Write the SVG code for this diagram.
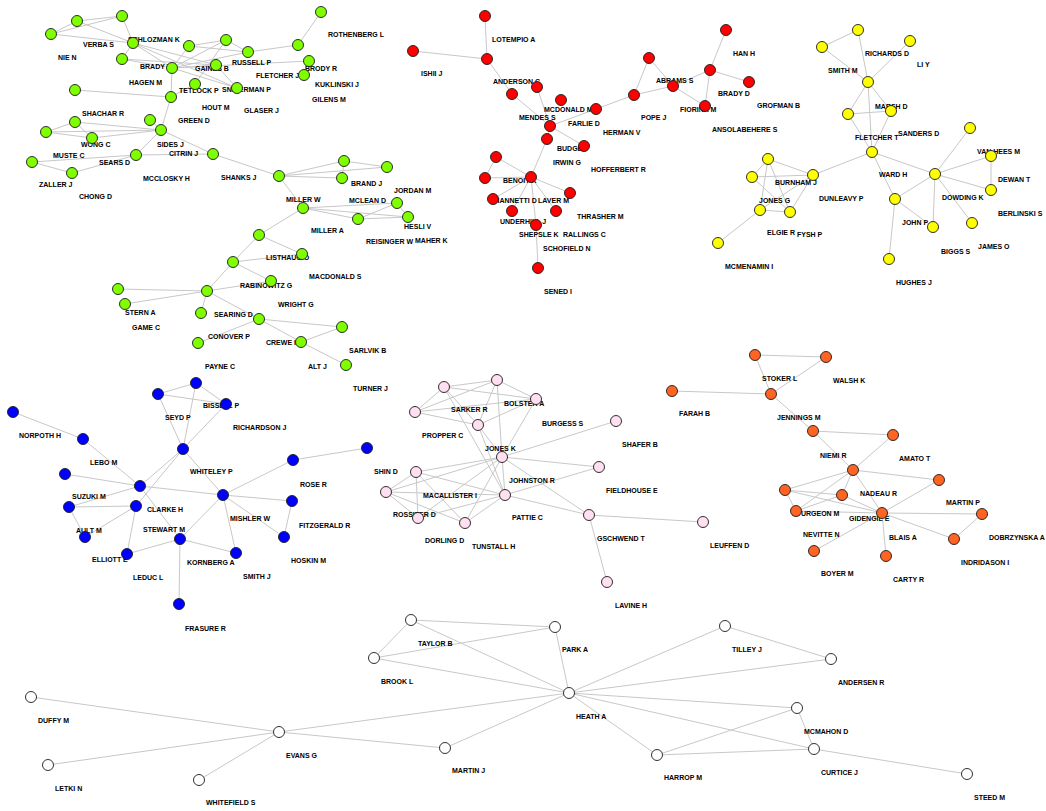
<svg xmlns="http://www.w3.org/2000/svg" width="1046" height="811" viewBox="0 0 1046 811">
<style>
.e line{stroke:#c8c8c8;stroke-width:1}
circle{stroke:#1a1a1a;stroke-width:0.9}
.g{fill:#7fff00}.r{fill:#ff0000}.y{fill:#ffff00}.b{fill:#0000ff}.p{fill:#ffdff0}.o{fill:#ff6422}.w{fill:#ffffff}
text{font-family:"Liberation Sans",Arial,sans-serif;font-weight:bold;font-size:7px;fill:#000}
</style>
<rect width="1046" height="811" fill="#fff"/>
<g id="connectors" class="e">
<line x1="122" y1="16" x2="77" y2="21"/><line x1="122" y1="16" x2="51" y2="34"/><line x1="77" y1="21" x2="51" y2="34"/><line x1="77" y1="21" x2="133" y2="43"/><line x1="51" y1="34" x2="133" y2="43"/><line x1="122" y1="16" x2="133" y2="43"/><line x1="133" y1="43" x2="122" y2="59"/><line x1="133" y1="43" x2="172" y2="68"/><line x1="133" y1="43" x2="216" y2="65"/><line x1="133" y1="43" x2="237" y2="88"/><line x1="122" y1="59" x2="172" y2="68"/><line x1="122" y1="59" x2="216" y2="65"/><line x1="172" y1="68" x2="189" y2="46"/><line x1="172" y1="68" x2="226" y2="40"/><line x1="172" y1="68" x2="248" y2="52"/><line x1="172" y1="68" x2="216" y2="65"/><line x1="172" y1="68" x2="237" y2="88"/><line x1="172" y1="68" x2="309" y2="61"/><line x1="189" y1="46" x2="226" y2="40"/><line x1="189" y1="46" x2="248" y2="52"/><line x1="226" y1="40" x2="248" y2="52"/><line x1="226" y1="40" x2="195" y2="84"/><line x1="216" y1="65" x2="237" y2="88"/><line x1="248" y1="52" x2="298" y2="45"/><line x1="321" y1="12" x2="298" y2="45"/><line x1="172" y1="68" x2="171" y2="97"/><line x1="171" y1="97" x2="195" y2="84"/><line x1="75" y1="90" x2="171" y2="97"/><line x1="171" y1="97" x2="161" y2="130"/><line x1="75" y1="122" x2="161" y2="130"/><line x1="46" y1="132" x2="161" y2="130"/><line x1="92" y1="138" x2="161" y2="130"/><line x1="75" y1="122" x2="46" y2="132"/><line x1="46" y1="132" x2="92" y2="138"/><line x1="75" y1="122" x2="92" y2="138"/><line x1="150" y1="120" x2="161" y2="130"/><line x1="161" y1="130" x2="136" y2="155"/><line x1="161" y1="130" x2="213" y2="154"/><line x1="32" y1="162" x2="136" y2="155"/><line x1="32" y1="162" x2="72" y2="173"/><line x1="72" y1="173" x2="136" y2="155"/><line x1="136" y1="155" x2="213" y2="154"/><line x1="213" y1="154" x2="279" y2="176"/><line x1="279" y1="176" x2="344" y2="161"/><line x1="279" y1="176" x2="387" y2="167"/><line x1="279" y1="176" x2="342" y2="178"/><line x1="344" y1="161" x2="387" y2="167"/><line x1="344" y1="161" x2="342" y2="178"/><line x1="279" y1="176" x2="303" y2="208"/><line x1="303" y1="208" x2="397" y2="203"/><line x1="303" y1="208" x2="408" y2="217"/><line x1="303" y1="208" x2="358" y2="219"/><line x1="358" y1="219" x2="397" y2="203"/><line x1="358" y1="219" x2="408" y2="217"/><line x1="397" y1="203" x2="408" y2="217"/><line x1="303" y1="208" x2="259" y2="235"/><line x1="259" y1="235" x2="302" y2="254"/><line x1="259" y1="235" x2="233" y2="262"/><line x1="233" y1="262" x2="302" y2="254"/><line x1="233" y1="262" x2="271" y2="281"/><line x1="233" y1="262" x2="207" y2="291"/><line x1="207" y1="291" x2="118" y2="289"/><line x1="207" y1="291" x2="125" y2="304"/><line x1="207" y1="291" x2="271" y2="281"/><line x1="207" y1="291" x2="201" y2="313"/><line x1="207" y1="291" x2="259" y2="319"/><line x1="259" y1="319" x2="342" y2="327"/><line x1="259" y1="319" x2="301" y2="342"/><line x1="259" y1="319" x2="198" y2="343"/><line x1="301" y1="342" x2="342" y2="327"/><line x1="301" y1="342" x2="346" y2="365"/>
<line x1="485" y1="16" x2="487" y2="59"/><line x1="413" y1="51" x2="487" y2="59"/><line x1="487" y1="59" x2="512" y2="94"/><line x1="512" y1="94" x2="550" y2="126"/><line x1="537" y1="87" x2="550" y2="126"/><line x1="550" y1="126" x2="596" y2="109"/><line x1="550" y1="126" x2="584" y2="146"/><line x1="550" y1="126" x2="547" y2="139"/><line x1="596" y1="109" x2="634" y2="95"/><line x1="634" y1="95" x2="649" y2="58"/><line x1="634" y1="95" x2="673" y2="86"/><line x1="649" y1="58" x2="673" y2="86"/><line x1="673" y1="86" x2="710" y2="70"/><line x1="673" y1="86" x2="705" y2="106"/><line x1="710" y1="70" x2="726" y2="30"/><line x1="710" y1="70" x2="749" y2="82"/><line x1="710" y1="70" x2="705" y2="106"/><line x1="547" y1="139" x2="531" y2="177"/><line x1="531" y1="177" x2="496" y2="157"/><line x1="496" y1="157" x2="485" y2="178"/><line x1="485" y1="178" x2="531" y2="177"/><line x1="531" y1="177" x2="493" y2="199"/><line x1="531" y1="177" x2="570" y2="193"/><line x1="531" y1="177" x2="512" y2="211"/><line x1="531" y1="177" x2="556" y2="211"/><line x1="531" y1="177" x2="536" y2="225"/><line x1="536" y1="225" x2="538" y2="268"/>
<line x1="858" y1="30" x2="822" y2="47"/><line x1="822" y1="47" x2="868" y2="82"/><line x1="858" y1="30" x2="868" y2="82"/><line x1="910" y1="41" x2="868" y2="82"/><line x1="868" y1="82" x2="848" y2="114"/><line x1="868" y1="82" x2="891" y2="111"/><line x1="848" y1="114" x2="891" y2="111"/><line x1="868" y1="82" x2="872" y2="152"/><line x1="848" y1="114" x2="872" y2="152"/><line x1="891" y1="111" x2="872" y2="152"/><line x1="872" y1="152" x2="813" y2="175"/><line x1="872" y1="152" x2="935" y2="174"/><line x1="872" y1="152" x2="895" y2="199"/><line x1="935" y1="174" x2="970" y2="128"/><line x1="935" y1="174" x2="991" y2="156"/><line x1="935" y1="174" x2="991" y2="190"/><line x1="991" y1="156" x2="991" y2="190"/><line x1="935" y1="174" x2="895" y2="199"/><line x1="935" y1="174" x2="933" y2="227"/><line x1="935" y1="174" x2="972" y2="223"/><line x1="895" y1="199" x2="889" y2="259"/><line x1="895" y1="199" x2="933" y2="227"/><line x1="768" y1="159" x2="752" y2="177"/><line x1="768" y1="159" x2="813" y2="175"/><line x1="768" y1="159" x2="760" y2="210"/><line x1="768" y1="159" x2="790" y2="212"/><line x1="752" y1="177" x2="813" y2="175"/><line x1="752" y1="177" x2="790" y2="212"/><line x1="813" y1="175" x2="760" y2="210"/><line x1="813" y1="175" x2="790" y2="212"/><line x1="760" y1="210" x2="790" y2="212"/><line x1="760" y1="210" x2="718" y2="243"/>
<line x1="196" y1="383" x2="158" y2="394"/><line x1="158" y1="394" x2="226" y2="404"/><line x1="196" y1="383" x2="226" y2="404"/><line x1="196" y1="383" x2="183" y2="449"/><line x1="158" y1="394" x2="183" y2="449"/><line x1="226" y1="404" x2="183" y2="449"/><line x1="13" y1="412" x2="83" y2="439"/><line x1="83" y1="439" x2="140" y2="486"/><line x1="65" y1="474" x2="140" y2="486"/><line x1="183" y1="449" x2="140" y2="486"/><line x1="183" y1="449" x2="136" y2="506"/><line x1="183" y1="449" x2="223" y2="495"/><line x1="140" y1="486" x2="223" y2="495"/><line x1="140" y1="486" x2="69" y2="507"/><line x1="69" y1="507" x2="136" y2="506"/><line x1="69" y1="507" x2="85" y2="537"/><line x1="136" y1="506" x2="85" y2="537"/><line x1="140" y1="486" x2="180" y2="539"/><line x1="136" y1="506" x2="127" y2="554"/><line x1="180" y1="539" x2="127" y2="554"/><line x1="180" y1="539" x2="236" y2="553"/><line x1="180" y1="539" x2="179" y2="604"/><line x1="223" y1="495" x2="180" y2="539"/><line x1="223" y1="495" x2="236" y2="553"/><line x1="223" y1="495" x2="293" y2="460"/><line x1="223" y1="495" x2="292" y2="501"/><line x1="223" y1="495" x2="284" y2="537"/><line x1="293" y1="460" x2="367" y2="448"/><line x1="292" y1="501" x2="284" y2="537"/>
<line x1="444" y1="387" x2="497" y2="380"/><line x1="444" y1="387" x2="536" y2="399"/><line x1="444" y1="387" x2="415" y2="412"/><line x1="444" y1="387" x2="478" y2="425"/><line x1="444" y1="387" x2="505" y2="495"/><line x1="497" y1="380" x2="536" y2="399"/><line x1="497" y1="380" x2="415" y2="412"/><line x1="497" y1="380" x2="478" y2="425"/><line x1="497" y1="380" x2="502" y2="457"/><line x1="536" y1="399" x2="415" y2="412"/><line x1="536" y1="399" x2="478" y2="425"/><line x1="536" y1="399" x2="502" y2="457"/><line x1="415" y1="412" x2="478" y2="425"/><line x1="478" y1="425" x2="502" y2="457"/><line x1="478" y1="425" x2="505" y2="495"/><line x1="502" y1="457" x2="616" y2="421"/><line x1="502" y1="457" x2="599" y2="467"/><line x1="502" y1="457" x2="589" y2="515"/><line x1="502" y1="457" x2="416" y2="472"/><line x1="502" y1="457" x2="386" y2="492"/><line x1="502" y1="457" x2="418" y2="518"/><line x1="502" y1="457" x2="465" y2="523"/><line x1="502" y1="457" x2="505" y2="495"/><line x1="416" y1="472" x2="386" y2="492"/><line x1="416" y1="472" x2="505" y2="495"/><line x1="416" y1="472" x2="418" y2="518"/><line x1="416" y1="472" x2="465" y2="523"/><line x1="386" y1="492" x2="505" y2="495"/><line x1="386" y1="492" x2="418" y2="518"/><line x1="386" y1="492" x2="465" y2="523"/><line x1="505" y1="495" x2="599" y2="467"/><line x1="505" y1="495" x2="465" y2="523"/><line x1="505" y1="495" x2="418" y2="518"/><line x1="505" y1="495" x2="589" y2="515"/><line x1="589" y1="515" x2="703" y2="522"/><line x1="589" y1="515" x2="607" y2="582"/>
<line x1="755" y1="355" x2="826" y2="357"/><line x1="755" y1="355" x2="771" y2="394"/><line x1="826" y1="357" x2="771" y2="394"/><line x1="672" y1="391" x2="771" y2="394"/><line x1="771" y1="394" x2="813" y2="431"/><line x1="813" y1="431" x2="893" y2="435"/><line x1="813" y1="431" x2="853" y2="470"/><line x1="893" y1="435" x2="853" y2="470"/><line x1="853" y1="470" x2="939" y2="480"/><line x1="853" y1="470" x2="785" y2="490"/><line x1="853" y1="470" x2="842" y2="495"/><line x1="853" y1="470" x2="796" y2="511"/><line x1="853" y1="470" x2="882" y2="513"/><line x1="785" y1="490" x2="842" y2="495"/><line x1="785" y1="490" x2="796" y2="511"/><line x1="785" y1="490" x2="882" y2="513"/><line x1="842" y1="495" x2="796" y2="511"/><line x1="842" y1="495" x2="882" y2="513"/><line x1="796" y1="511" x2="882" y2="513"/><line x1="939" y1="480" x2="882" y2="513"/><line x1="882" y1="513" x2="982" y2="514"/><line x1="882" y1="513" x2="954" y2="539"/><line x1="982" y1="514" x2="954" y2="539"/><line x1="882" y1="513" x2="814" y2="551"/><line x1="882" y1="513" x2="886" y2="556"/>
<line x1="411" y1="620" x2="555" y2="627"/><line x1="411" y1="620" x2="569" y2="693"/><line x1="411" y1="620" x2="374" y2="658"/><line x1="374" y1="658" x2="555" y2="627"/><line x1="374" y1="658" x2="569" y2="693"/><line x1="555" y1="627" x2="569" y2="693"/><line x1="279" y1="732" x2="31" y2="697"/><line x1="279" y1="732" x2="48" y2="765"/><line x1="279" y1="732" x2="199" y2="780"/><line x1="279" y1="732" x2="445" y2="748"/><line x1="279" y1="732" x2="569" y2="693"/><line x1="445" y1="748" x2="569" y2="693"/><line x1="569" y1="693" x2="725" y2="626"/><line x1="569" y1="693" x2="831" y2="659"/><line x1="725" y1="626" x2="831" y2="659"/><line x1="569" y1="693" x2="797" y2="708"/><line x1="569" y1="693" x2="814" y2="749"/><line x1="569" y1="693" x2="657" y2="755"/><line x1="797" y1="708" x2="814" y2="749"/><line x1="797" y1="708" x2="657" y2="755"/><line x1="657" y1="755" x2="814" y2="749"/><line x1="814" y1="749" x2="967" y2="774"/>
</g>
<g id="nodes">
<g id="schlozman-k"><circle class="g" cx="122" cy="16" r="5.5"/><text x="128" y="41.5">SCHLOZMAN K</text></g>
<g id="verba-s"><circle class="g" cx="77" cy="21" r="5.5"/><text x="83" y="46.5">VERBA S</text></g>
<g id="nie-n"><circle class="g" cx="51" cy="34" r="5.5"/><text x="58" y="59.5">NIE N</text></g>
<g id="brady-i"><circle class="g" cx="133" cy="43" r="5.5"/><text x="140" y="68.5">BRADY I</text></g>
<g id="hagen-m"><circle class="g" cx="122" cy="59" r="5.5"/><text x="129" y="84.5">HAGEN M</text></g>
<g id="gaines-b"><circle class="g" cx="189" cy="46" r="5.5"/><text x="195" y="70.5">GAINES B</text></g>
<g id="russell-p"><circle class="g" cx="226" cy="40" r="5.5"/><text x="232" y="64.5">RUSSELL P</text></g>
<g id="fletcher-j"><circle class="g" cx="248" cy="52" r="5.5"/><text x="256" y="77.5">FLETCHER J</text></g>
<g id="rothenberg-l"><circle class="g" cx="321" cy="12" r="5.5"/><text x="328" y="36.5">ROTHENBERG L</text></g>
<g id="brody-r"><circle class="g" cx="298" cy="45" r="5.5"/><text x="305" y="70.5">BRODY R</text></g>
<g id="kuklinski-j"><circle class="g" cx="309" cy="61" r="5.5"/><text x="315" y="86.5">KUKLINSKI J</text></g>
<g id="gilens-m"><circle class="g" cx="304" cy="75" r="5.5"/><text x="312" y="101.5">GILENS M</text></g>
<g id="tetlock-p"><circle class="g" cx="172" cy="68" r="5.5"/><text x="179" y="92.5">TETLOCK P</text></g>
<g id="sniderman-p"><circle class="g" cx="216" cy="65" r="5.5"/><text x="222" y="91.5">SNIDERMAN P</text></g>
<g id="hout-m"><circle class="g" cx="195" cy="84" r="5.5"/><text x="202" y="109.5">HOUT M</text></g>
<g id="glaser-j"><circle class="g" cx="237" cy="88" r="5.5"/><text x="244" y="112.5">GLASER J</text></g>
<g id="shachar-r"><circle class="g" cx="75" cy="90" r="5.5"/><text x="82" y="115.5">SHACHAR R</text></g>
<g id="green-d"><circle class="g" cx="171" cy="97" r="5.5"/><text x="178" y="122.5">GREEN D</text></g>
<g id="wong-c"><circle class="g" cx="75" cy="122" r="5.5"/><text x="81" y="146.5">WONG C</text></g>
<g id="sides-j"><circle class="g" cx="150" cy="120" r="5.5"/><text x="157" y="146.5">SIDES J</text></g>
<g id="muste-c"><circle class="g" cx="46" cy="132" r="5.5"/><text x="53" y="157.5">MUSTE C</text></g>
<g id="sears-d"><circle class="g" cx="92" cy="138" r="5.5"/><text x="99" y="164.5">SEARS D</text></g>
<g id="citrin-j"><circle class="g" cx="161" cy="130" r="5.5"/><text x="169" y="155.5">CITRIN J</text></g>
<g id="zaller-j"><circle class="g" cx="32" cy="162" r="5.5"/><text x="39" y="186.5">ZALLER J</text></g>
<g id="chong-d"><circle class="g" cx="72" cy="173" r="5.5"/><text x="79" y="198.5">CHONG D</text></g>
<g id="mcclosky-h"><circle class="g" cx="136" cy="155" r="5.5"/><text x="143" y="180.5">MCCLOSKY H</text></g>
<g id="shanks-j"><circle class="g" cx="213" cy="154" r="5.5"/><text x="221" y="179.5">SHANKS J</text></g>
<g id="miller-w"><circle class="g" cx="279" cy="176" r="5.5"/><text x="286" y="201.5">MILLER W</text></g>
<g id="brand-j"><circle class="g" cx="344" cy="161" r="5.5"/><text x="351" y="185.5">BRAND J</text></g>
<g id="jordan-m"><circle class="g" cx="387" cy="167" r="5.5"/><text x="394" y="192.5">JORDAN M</text></g>
<g id="mclean-d"><circle class="g" cx="342" cy="178" r="5.5"/><text x="349" y="202.5">MCLEAN D</text></g>
<g id="hesli-v"><circle class="g" cx="397" cy="203" r="5.5"/><text x="404" y="228.5">HESLI V</text></g>
<g id="maher-k"><circle class="g" cx="408" cy="217" r="5.5"/><text x="415" y="242.5">MAHER K</text></g>
<g id="reisinger-w"><circle class="g" cx="358" cy="219" r="5.5"/><text x="366" y="243.5">REISINGER W</text></g>
<g id="miller-a"><circle class="g" cx="303" cy="208" r="5.5"/><text x="311" y="232.5">MILLER A</text></g>
<g id="listhaug-o"><circle class="g" cx="259" cy="235" r="5.5"/><text x="266" y="259.5">LISTHAUG O</text></g>
<g id="macdonald-s"><circle class="g" cx="302" cy="254" r="5.5"/><text x="309" y="278.5">MACDONALD S</text></g>
<g id="rabinowitz-g"><circle class="g" cx="233" cy="262" r="5.5"/><text x="240" y="287.5">RABINOWITZ G</text></g>
<g id="wright-g"><circle class="g" cx="271" cy="281" r="5.5"/><text x="278" y="306.5">WRIGHT G</text></g>
<g id="searing-d"><circle class="g" cx="207" cy="291" r="5.5"/><text x="214" y="316.5">SEARING D</text></g>
<g id="stern-a"><circle class="g" cx="118" cy="289" r="5.5"/><text x="125" y="314.5">STERN A</text></g>
<g id="game-c"><circle class="g" cx="125" cy="304" r="5.5"/><text x="132" y="329.5">GAME C</text></g>
<g id="conover-p"><circle class="g" cx="201" cy="313" r="5.5"/><text x="208" y="338.5">CONOVER P</text></g>
<g id="crewe-i"><circle class="g" cx="259" cy="319" r="5.5"/><text x="266" y="344.5">CREWE I</text></g>
<g id="sarlvik-b"><circle class="g" cx="342" cy="327" r="5.5"/><text x="349" y="352.5">SARLVIK B</text></g>
<g id="alt-j"><circle class="g" cx="301" cy="342" r="5.5"/><text x="308" y="368.5">ALT J</text></g>
<g id="payne-c"><circle class="g" cx="198" cy="343" r="5.5"/><text x="205" y="368.5">PAYNE C</text></g>
<g id="turner-j"><circle class="g" cx="346" cy="365" r="5.5"/><text x="353" y="390.5">TURNER J</text></g>
<g id="lotempio-a"><circle class="r" cx="485" cy="16" r="5.5"/><text x="492" y="41.5">LOTEMPIO A</text></g>
<g id="ishii-j"><circle class="r" cx="413" cy="51" r="5.5"/><text x="421" y="75.5">ISHII J</text></g>
<g id="anderson-c"><circle class="r" cx="487" cy="59" r="5.5"/><text x="493" y="83.5">ANDERSON C</text></g>
<g id="mendes-s"><circle class="r" cx="512" cy="94" r="5.5"/><text x="519" y="119.5">MENDES S</text></g>
<g id="mcdonald-m"><circle class="r" cx="537" cy="87" r="5.5"/><text x="544" y="111.5">MCDONALD M</text></g>
<g id="farlie-d"><circle class="r" cx="561" cy="100" r="5.5"/><text x="568" y="125.5">FARLIE D</text></g>
<g id="herman-v"><circle class="r" cx="596" cy="109" r="5.5"/><text x="603" y="134.5">HERMAN V</text></g>
<g id="budge-i"><circle class="r" cx="550" cy="126" r="5.5"/><text x="557" y="150.5">BUDGE I</text></g>
<g id="irwin-g"><circle class="r" cx="547" cy="139" r="5.5"/><text x="553" y="164.5">IRWIN G</text></g>
<g id="hofferbert-r"><circle class="r" cx="584" cy="146" r="5.5"/><text x="591" y="171.5">HOFFERBERT R</text></g>
<g id="pope-j"><circle class="r" cx="634" cy="95" r="5.5"/><text x="641" y="119.5">POPE J</text></g>
<g id="abrams-s"><circle class="r" cx="649" cy="58" r="5.5"/><text x="656" y="82.5">ABRAMS S</text></g>
<g id="fiorina-m"><circle class="r" cx="673" cy="86" r="5.5"/><text x="680" y="111.5">FIORINA M</text></g>
<g id="brady-d"><circle class="r" cx="710" cy="70" r="5.5"/><text x="718" y="95.5">BRADY D</text></g>
<g id="han-h"><circle class="r" cx="726" cy="30" r="5.5"/><text x="733" y="55.5">HAN H</text></g>
<g id="grofman-b"><circle class="r" cx="749" cy="82" r="5.5"/><text x="757" y="107.5">GROFMAN B</text></g>
<g id="ansolabehere-s"><circle class="r" cx="705" cy="106" r="5.5"/><text x="712" y="131.5">ANSOLABEHERE S</text></g>
<g id="benoit-k"><circle class="r" cx="496" cy="157" r="5.5"/><text x="503" y="182.5">BENOIT K</text></g>
<g id="giannetti-d"><circle class="r" cx="485" cy="178" r="5.5"/><text x="492" y="202.5">GIANNETTI D</text></g>
<g id="laver-m"><circle class="r" cx="531" cy="177" r="5.5"/><text x="538" y="202.5">LAVER M</text></g>
<g id="underhill-j"><circle class="r" cx="493" cy="199" r="5.5"/><text x="500" y="223.5">UNDERHILL J</text></g>
<g id="thrasher-m"><circle class="r" cx="570" cy="193" r="5.5"/><text x="577" y="218.5">THRASHER M</text></g>
<g id="shepsle-k"><circle class="r" cx="512" cy="211" r="5.5"/><text x="519" y="236.5">SHEPSLE K</text></g>
<g id="rallings-c"><circle class="r" cx="556" cy="211" r="5.5"/><text x="563" y="236.5">RALLINGS C</text></g>
<g id="schofield-n"><circle class="r" cx="536" cy="225" r="5.5"/><text x="543" y="250.5">SCHOFIELD N</text></g>
<g id="sened-i"><circle class="r" cx="538" cy="268" r="5.5"/><text x="544" y="293.5">SENED I</text></g>
<g id="richards-d"><circle class="y" cx="858" cy="30" r="5.5"/><text x="865" y="55.5">RICHARDS D</text></g>
<g id="smith-m"><circle class="y" cx="822" cy="47" r="5.5"/><text x="828" y="72.5">SMITH M</text></g>
<g id="li-y"><circle class="y" cx="910" cy="41" r="5.5"/><text x="917" y="66.5">LI Y</text></g>
<g id="marsh-d"><circle class="y" cx="868" cy="82" r="5.5"/><text x="875" y="108.5">MARSH D</text></g>
<g id="fletcher-t"><circle class="y" cx="848" cy="114" r="5.5"/><text x="855" y="139.5">FLETCHER T</text></g>
<g id="sanders-d"><circle class="y" cx="891" cy="111" r="5.5"/><text x="898" y="135.5">SANDERS D</text></g>
<g id="ward-h"><circle class="y" cx="872" cy="152" r="5.5"/><text x="879" y="176.5">WARD H</text></g>
<g id="burnham-j"><circle class="y" cx="768" cy="159" r="5.5"/><text x="775" y="184.5">BURNHAM J</text></g>
<g id="jones-g"><circle class="y" cx="752" cy="177" r="5.5"/><text x="759" y="202.5">JONES G</text></g>
<g id="dunleavy-p"><circle class="y" cx="813" cy="175" r="5.5"/><text x="819" y="200.5">DUNLEAVY P</text></g>
<g id="elgie-r"><circle class="y" cx="760" cy="210" r="5.5"/><text x="767" y="234.5">ELGIE R</text></g>
<g id="fysh-p"><circle class="y" cx="790" cy="212" r="5.5"/><text x="797" y="236.5">FYSH P</text></g>
<g id="mcmenamin-i"><circle class="y" cx="718" cy="243" r="5.5"/><text x="725" y="268.5">MCMENAMIN I</text></g>
<g id="dowding-k"><circle class="y" cx="935" cy="174" r="5.5"/><text x="942" y="199.5">DOWDING K</text></g>
<g id="van-hees-m"><circle class="y" cx="970" cy="128" r="5.5"/><text x="977" y="153.5">VAN HEES M</text></g>
<g id="dewan-t"><circle class="y" cx="991" cy="156" r="5.5"/><text x="998" y="181.5">DEWAN T</text></g>
<g id="berlinski-s"><circle class="y" cx="991" cy="190" r="5.5"/><text x="998" y="215.5">BERLINSKI S</text></g>
<g id="john-p"><circle class="y" cx="895" cy="199" r="5.5"/><text x="902" y="224.5">JOHN P</text></g>
<g id="biggs-s"><circle class="y" cx="933" cy="227" r="5.5"/><text x="941" y="253.5">BIGGS S</text></g>
<g id="james-o"><circle class="y" cx="972" cy="223" r="5.5"/><text x="978" y="248.5">JAMES O</text></g>
<g id="hughes-j"><circle class="y" cx="889" cy="259" r="5.5"/><text x="896" y="284.5">HUGHES J</text></g>
<g id="bissell-p"><circle class="b" cx="196" cy="383" r="5.5"/><text x="203" y="407.5">BISSELL P</text></g>
<g id="seyd-p"><circle class="b" cx="158" cy="394" r="5.5"/><text x="165" y="419.5">SEYD P</text></g>
<g id="richardson-j"><circle class="b" cx="226" cy="404" r="5.5"/><text x="233" y="429.5">RICHARDSON J</text></g>
<g id="norpoth-h"><circle class="b" cx="13" cy="412" r="5.5"/><text x="19" y="437.5">NORPOTH H</text></g>
<g id="lebo-m"><circle class="b" cx="83" cy="439" r="5.5"/><text x="90" y="464.5">LEBO M</text></g>
<g id="whiteley-p"><circle class="b" cx="183" cy="449" r="5.5"/><text x="190" y="473.5">WHITELEY P</text></g>
<g id="suzuki-m"><circle class="b" cx="65" cy="474" r="5.5"/><text x="72" y="498.5">SUZUKI M</text></g>
<g id="clarke-h"><circle class="b" cx="140" cy="486" r="5.5"/><text x="147" y="511.5">CLARKE H</text></g>
<g id="ault-m"><circle class="b" cx="69" cy="507" r="5.5"/><text x="76" y="532.5">AULT M</text></g>
<g id="stewart-m"><circle class="b" cx="136" cy="506" r="5.5"/><text x="143" y="531.5">STEWART M</text></g>
<g id="elliott-e"><circle class="b" cx="85" cy="537" r="5.5"/><text x="92" y="561.5">ELLIOTT E</text></g>
<g id="kornberg-a"><circle class="b" cx="180" cy="539" r="5.5"/><text x="187" y="564.5">KORNBERG A</text></g>
<g id="leduc-l"><circle class="b" cx="127" cy="554" r="5.5"/><text x="133" y="579.5">LEDUC L</text></g>
<g id="smith-j"><circle class="b" cx="236" cy="553" r="5.5"/><text x="243" y="578.5">SMITH J</text></g>
<g id="mishler-w"><circle class="b" cx="223" cy="495" r="5.5"/><text x="230" y="520.5">MISHLER W</text></g>
<g id="rose-r"><circle class="b" cx="293" cy="460" r="5.5"/><text x="300" y="486.5">ROSE R</text></g>
<g id="shin-d"><circle class="b" cx="367" cy="448" r="5.5"/><text x="374" y="473.5">SHIN D</text></g>
<g id="fitzgerald-r"><circle class="b" cx="292" cy="501" r="5.5"/><text x="299" y="527.5">FITZGERALD R</text></g>
<g id="hoskin-m"><circle class="b" cx="284" cy="537" r="5.5"/><text x="291" y="562.5">HOSKIN M</text></g>
<g id="frasure-r"><circle class="b" cx="179" cy="604" r="5.5"/><text x="185" y="630.5">FRASURE R</text></g>
<g id="sarker-r"><circle class="p" cx="444" cy="387" r="5.5"/><text x="451" y="411.5">SARKER R</text></g>
<g id="bolster-a"><circle class="p" cx="497" cy="380" r="5.5"/><text x="504" y="405.5">BOLSTER A</text></g>
<g id="burgess-s"><circle class="p" cx="536" cy="399" r="5.5"/><text x="542" y="425.5">BURGESS S</text></g>
<g id="propper-c"><circle class="p" cx="415" cy="412" r="5.5"/><text x="422" y="437.5">PROPPER C</text></g>
<g id="jones-k"><circle class="p" cx="478" cy="425" r="5.5"/><text x="485" y="450.5">JONES K</text></g>
<g id="shafer-b"><circle class="p" cx="616" cy="421" r="5.5"/><text x="622" y="446.5">SHAFER B</text></g>
<g id="johnston-r"><circle class="p" cx="502" cy="457" r="5.5"/><text x="509" y="482.5">JOHNSTON R</text></g>
<g id="macallister-i"><circle class="p" cx="416" cy="472" r="5.5"/><text x="423" y="497.5">MACALLISTER I</text></g>
<g id="fieldhouse-e"><circle class="p" cx="599" cy="467" r="5.5"/><text x="606" y="492.5">FIELDHOUSE E</text></g>
<g id="rossiter-d"><circle class="p" cx="386" cy="492" r="5.5"/><text x="393" y="516.5">ROSSITER D</text></g>
<g id="pattie-c"><circle class="p" cx="505" cy="495" r="5.5"/><text x="512" y="519.5">PATTIE C</text></g>
<g id="dorling-d"><circle class="p" cx="418" cy="518" r="5.5"/><text x="425" y="542.5">DORLING D</text></g>
<g id="tunstall-h"><circle class="p" cx="465" cy="523" r="5.5"/><text x="472" y="548.5">TUNSTALL H</text></g>
<g id="gschwend-t"><circle class="p" cx="589" cy="515" r="5.5"/><text x="597" y="540.5">GSCHWEND T</text></g>
<g id="leuffen-d"><circle class="p" cx="703" cy="522" r="5.5"/><text x="710" y="547.5">LEUFFEN D</text></g>
<g id="lavine-h"><circle class="p" cx="607" cy="582" r="5.5"/><text x="615" y="607.5">LAVINE H</text></g>
<g id="stoker-l"><circle class="o" cx="755" cy="355" r="5.5"/><text x="762" y="380.5">STOKER L</text></g>
<g id="walsh-k"><circle class="o" cx="826" cy="357" r="5.5"/><text x="833" y="382.5">WALSH K</text></g>
<g id="farah-b"><circle class="o" cx="672" cy="391" r="5.5"/><text x="679" y="415.5">FARAH B</text></g>
<g id="jennings-m"><circle class="o" cx="771" cy="394" r="5.5"/><text x="777" y="419.5">JENNINGS M</text></g>
<g id="niemi-r"><circle class="o" cx="813" cy="431" r="5.5"/><text x="820" y="457.5">NIEMI R</text></g>
<g id="amato-t"><circle class="o" cx="893" cy="435" r="5.5"/><text x="899" y="460.5">AMATO T</text></g>
<g id="nadeau-r"><circle class="o" cx="853" cy="470" r="5.5"/><text x="860" y="495.5">NADEAU R</text></g>
<g id="martin-p"><circle class="o" cx="939" cy="480" r="5.5"/><text x="946" y="504.5">MARTIN P</text></g>
<g id="sturgeon-m"><circle class="o" cx="785" cy="490" r="5.5"/><text x="792" y="515.5">STURGEON M</text></g>
<g id="gidengil-e"><circle class="o" cx="842" cy="495" r="5.5"/><text x="849" y="520.5">GIDENGIL E</text></g>
<g id="nevitte-n"><circle class="o" cx="796" cy="511" r="5.5"/><text x="803" y="536.5">NEVITTE N</text></g>
<g id="blais-a"><circle class="o" cx="882" cy="513" r="5.5"/><text x="889" y="539.5">BLAIS A</text></g>
<g id="dobrzynska-a"><circle class="o" cx="982" cy="514" r="5.5"/><text x="989" y="539.5">DOBRZYNSKA A</text></g>
<g id="indridason-i"><circle class="o" cx="954" cy="539" r="5.5"/><text x="961" y="564.5">INDRIDASON I</text></g>
<g id="boyer-m"><circle class="o" cx="814" cy="551" r="5.5"/><text x="821" y="575.5">BOYER M</text></g>
<g id="carty-r"><circle class="o" cx="886" cy="556" r="5.5"/><text x="893" y="581.5">CARTY R</text></g>
<g id="taylor-b"><circle class="w" cx="411" cy="620" r="5.5"/><text x="418" y="645.5">TAYLOR B</text></g>
<g id="brook-l"><circle class="w" cx="374" cy="658" r="5.5"/><text x="381" y="683.5">BROOK L</text></g>
<g id="park-a"><circle class="w" cx="555" cy="627" r="5.5"/><text x="562" y="651.5">PARK A</text></g>
<g id="tilley-j"><circle class="w" cx="725" cy="626" r="5.5"/><text x="732" y="651.5">TILLEY J</text></g>
<g id="andersen-r"><circle class="w" cx="831" cy="659" r="5.5"/><text x="838" y="684.5">ANDERSEN R</text></g>
<g id="heath-a"><circle class="w" cx="569" cy="693" r="5.5"/><text x="576" y="718.5">HEATH A</text></g>
<g id="mcmahon-d"><circle class="w" cx="797" cy="708" r="5.5"/><text x="804" y="733.5">MCMAHON D</text></g>
<g id="harrop-m"><circle class="w" cx="657" cy="755" r="5.5"/><text x="664" y="779.5">HARROP M</text></g>
<g id="curtice-j"><circle class="w" cx="814" cy="749" r="5.5"/><text x="821" y="774.5">CURTICE J</text></g>
<g id="steed-m"><circle class="w" cx="967" cy="774" r="5.5"/><text x="974" y="799.5">STEED M</text></g>
<g id="duffy-m"><circle class="w" cx="31" cy="697" r="5.5"/><text x="38" y="722.5">DUFFY M</text></g>
<g id="evans-g"><circle class="w" cx="279" cy="732" r="5.5"/><text x="286" y="757.5">EVANS G</text></g>
<g id="martin-j"><circle class="w" cx="445" cy="748" r="5.5"/><text x="452" y="772.5">MARTIN J</text></g>
<g id="letki-n"><circle class="w" cx="48" cy="765" r="5.5"/><text x="55" y="790.5">LETKI N</text></g>
<g id="whitefield-s"><circle class="w" cx="199" cy="780" r="5.5"/><text x="206" y="804.5">WHITEFIELD S</text></g>
</g>
</svg>
